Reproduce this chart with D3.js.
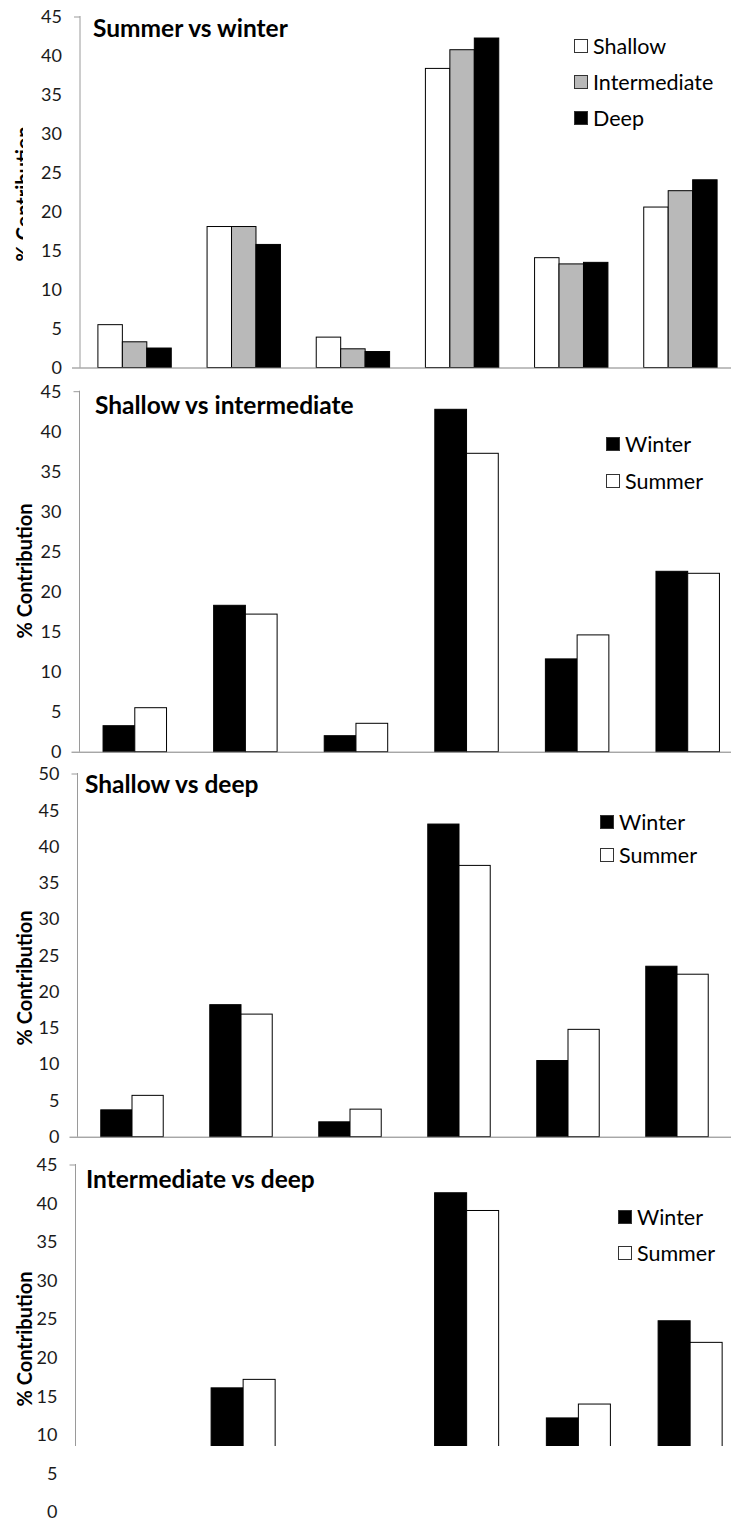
<!DOCTYPE html>
<html>
<head>
<meta charset="utf-8">
<script src="https://cdnjs.cloudflare.com/ajax/libs/d3/7.8.5/d3.min.js"></script>
<style>
  body { margin: 0; background: #fff; }
  svg { display: block; font-family: Lato, "Open Sans", sans-serif; }
</style>
</head>
<body>
<svg id="chart" width="731" height="1522"></svg>
<script>
// six groups along x, no labels drawn in the original
let groups = ["g1", "g2", "g3", "g4", "g5", "g6"]

// panel 1: summer vs winter
let depthNames = ["Shallow", "Intermediate", "Deep"]
let shallowVals = [5.5, 18.1, 3.9, 38.4, 14.1, 20.6]
let intermediateVals = [3.3, 18.1, 2.4, 40.8, 13.3, 22.7]
let deepVals = [2.5, 15.8, 2.05, 42.3, 13.5, 24.1]

// panels 2-4: winter / summer
let seasonNames = ["Winter", "Summer"]
let winterShallowInt = [3.25, 18.3, 2.0, 42.8, 11.6, 22.55]
let summerShallowInt = [5.5, 17.2, 3.55, 37.3, 14.6, 22.3]
let winterShallowDeep = [3.7, 18.2, 2.05, 43.1, 10.5, 23.5]
let summerShallowDeep = [5.7, 16.9, 3.8, 37.4, 14.8, 22.4]
// first and third groups sit below the cropped edge of the last panel
let winterIntDeep = [null, 16.1, null, 41.4, 12.2, 24.8]
let summerIntDeep = [null, 17.2, null, 39.1, 14.0, 22.0]

let ticks45 = [0, 5, 10, 15, 20, 25, 30, 35, 40, 45]
let ticks50 = [0, 5, 10, 15, 20, 25, 30, 35, 40, 45, 50]

let panels = [
  {
    title: "Summer vs winter",
    series: depthNames,
    values: [shallowVals, intermediateVals, deepVals],
    fills: ["#ffffff", "#b9b9b9", "#000000"],
    ticks: ticks45,
    y0: 367.5, yTop: 17, axisX: 80, xRight: 735, pad: 0.328,
    titleX: 93, titleY: 37, labelX: 31, labelY: 194, labelClip: 23,
    legendX: 574, legendY: 46, legendGap: 36
  },
  {
    title: "Shallow vs intermediate",
    series: seasonNames,
    values: [winterShallowInt, summerShallowInt],
    fills: ["#000000", "#ffffff"],
    ticks: ticks45,
    y0: 751.7, yTop: 391.7, axisX: 79.5, xRight: 743, pad: 0.426,
    titleX: 95, titleY: 414, labelX: 32, labelY: 571,
    legendX: 606, legendY: 444, legendGap: 37
  },
  {
    title: "Shallow vs deep",
    series: seasonNames,
    values: [winterShallowDeep, summerShallowDeep],
    fills: ["#000000", "#ffffff"],
    ticks: ticks50,
    y0: 1136.7, yTop: 774, axisX: 77.5, xRight: 731.5, pad: 0.427,
    titleX: 85, titleY: 792.5, labelX: 32, labelY: 978,
    legendX: 600, legendY: 822, legendGap: 33
  },
  {
    title: "Intermediate vs deep",
    series: seasonNames,
    values: [winterIntDeep, summerIntDeep],
    fills: ["#000000", "#ffffff"],
    ticks: ticks45,
    y0: 1512, yTop: 1165, axisX: 75.5, xRight: 746, pad: 0.427,
    titleX: 86, titleY: 1187.5, labelX: 32, labelY: 1339, cutY: 1446,
    legendX: 618, legendY: 1217, legendGap: 36
  }
]

let svg = d3.select("#chart")

panels.forEach(function(p, pi) {
  let g = svg.append("g")

  let y = d3.scaleLinear()
    .domain([0, d3.max(p.ticks)])
    .range([p.y0, p.yTop])

  let x = d3.scaleBand()
    .domain(groups)
    .range([p.axisX, p.xRight])
    .paddingInner(p.pad)
    .paddingOuter(p.pad / 2)

  let xSub = d3.scaleBand()
    .domain(p.series)
    .range([0, x.bandwidth()])

  // the bottom panel is cropped part way down in the source
  let bottom = p.cutY || p.y0
  let clipId = "clip" + pi
  g.append("clipPath")
    .attr("id", clipId)
    .append("rect")
    .attr("x", 0)
    .attr("y", p.yTop - 30)
    .attr("width", 731)
    .attr("height", bottom - p.yTop + 30 + (p.cutY ? 0 : 2))

  // bars
  let rows = []
  p.series.forEach(function(s, si) {
    p.values[si].forEach(function(v, gi) {
      if (v !== null) rows.push({ group: groups[gi], series: s, value: v, fill: p.fills[si] })
    })
  })

  g.append("g")
    .attr("clip-path", "url(#" + clipId + ")")
    .selectAll("rect")
    .data(rows)
    .enter()
    .append("rect")
    .attr("x", function(d) { return x(d.group) + xSub(d.series) })
    .attr("y", function(d) { return y(d.value) })
    .attr("width", xSub.bandwidth())
    .attr("height", function(d) { return p.y0 - y(d.value) })
    .attr("fill", function(d) { return d.fill })
    .attr("stroke", "#000")
    .attr("stroke-width", 1)

  // y axis labels
  let yAxis = d3.axisLeft(y)
    .tickValues(p.ticks)
    .tickSize(0)
    .tickPadding(18)

  g.append("g")
    .attr("transform", "translate(" + p.axisX + ",0)")
    .call(yAxis)
    .call(function(a) { a.select(".domain").remove() })
    .selectAll("text")
    .attr("font-family", "Lato, sans-serif")
    .attr("font-size", 18)
    .attr("fill", "#1a1a1a")

  // y axis line
  g.append("line")
    .attr("x1", p.axisX).attr("x2", p.axisX)
    .attr("y1", p.yTop - 1).attr("y2", bottom)
    .attr("stroke", "#9a9a9a")
    .attr("stroke-width", 1)

  g.append("line")
    .attr("x1", p.axisX - 6).attr("x2", p.axisX)
    .attr("y1", p.yTop).attr("y2", p.yTop)
    .attr("stroke", "#9a9a9a")

  // x axis line
  if (!p.cutY) {
    g.append("line")
      .attr("x1", p.axisX - 8).attr("x2", 731)
      .attr("y1", p.y0 + 0.5).attr("y2", p.y0 + 0.5)
      .attr("stroke", "#808080")
      .attr("stroke-width", 1)
  }

  // panel title
  g.append("text")
    .attr("x", p.titleX)
    .attr("y", p.titleY)
    .attr("font-size", 24.5)
    .attr("font-weight", "bold")
    .attr("fill", "#000")
    .text(p.title)

  // y axis title, the top one is cut by the crop of the source
  let labelG = g.append("g")
  if (p.labelClip) {
    g.append("clipPath")
      .attr("id", "lab" + pi)
      .append("rect")
      .attr("x", 0).attr("y", p.yTop).attr("width", p.labelClip).attr("height", p.y0 - p.yTop)
    labelG.attr("clip-path", "url(#lab" + pi + ")")
  }
  labelG.append("text")
    .attr("transform", "translate(" + p.labelX + "," + p.labelY + ") rotate(-90)")
    .attr("text-anchor", "middle")
    .attr("font-size", 20)
    .attr("font-weight", "bold")
    .attr("fill", "#000")
    .text("% Contribution")

  // legend
  let legend = g.selectAll(".leg")
    .data(p.series)
    .enter()
    .append("g")
    .attr("transform", function(d, i) {
      return "translate(" + p.legendX + "," + (p.legendY + i * p.legendGap) + ")"
    })

  legend.append("rect")
    .attr("x", 0.5)
    .attr("y", -6.5)
    .attr("width", 13)
    .attr("height", 13)
    .attr("fill", function(d, i) { return p.fills[i] })
    .attr("stroke", "#333")

  legend.append("text")
    .attr("x", 19)
    .attr("y", 7.5)
    .attr("font-size", 21.5)
    .attr("fill", "#000")
    .text(function(d) { return d })
})
</script>
</body>
</html>
